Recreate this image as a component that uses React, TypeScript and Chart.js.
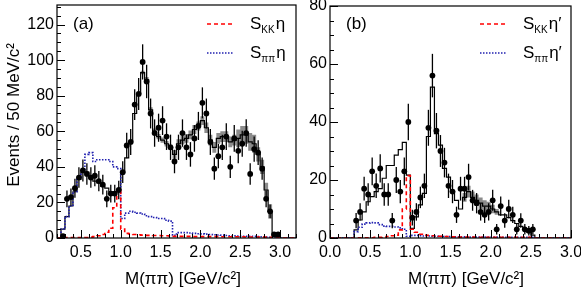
import React, { useEffect, useRef } from "react";
import { Chart, registerables } from "chart.js";
Chart.register(...registerables);

const FONT = '"Liberation Sans", Arial, Helvetica, sans-serif';

// ---------------- Panel (a): S-wave with eta ----------------
const aMass = [0.275, 0.325, 0.375, 0.425, 0.475, 0.525, 0.575, 0.625, 0.675, 0.725, 0.775, 0.825, 0.875, 0.925, 0.975, 1.025, 1.075, 1.125, 1.175, 1.225, 1.275, 1.325, 1.375, 1.425, 1.475, 1.525, 1.575, 1.625, 1.675, 1.725, 1.775, 1.825, 1.875, 1.925, 1.975, 2.025, 2.075, 2.125, 2.175, 2.225, 2.275, 2.325, 2.375, 2.425, 2.475, 2.525, 2.575, 2.625, 2.675, 2.725, 2.775, 2.825, 2.875, 2.925, 2.975];
const aData = [1, 22, 23, 28, 34, 38, 36, 34, 35, 32, 30, 22, 25, 25, 27, 37, 52, 54, 75, 81, 99, 88, 70, 59, 62, 66, 57, 51, 43, 51, 59, 51, 47, 56, 63, 76, 70, 54, 39, 46, 51, 57, 40, 56, 49, 53, 59, 36, 50, 48, 39, 22, 15, 2, 2];
const aErr = [1, 4.7, 4.8, 5.3, 5.8, 6.2, 6, 5.8, 5.9, 5.7, 5.5, 4.7, 5, 5, 5.2, 6.1, 7.2, 7.3, 8.7, 9, 9.9, 9.4, 8.4, 7.7, 7.9, 8.1, 7.5, 7.1, 6.6, 7.1, 7.7, 7.1, 6.9, 7.5, 7.9, 8.7, 8.4, 7.3, 6.2, 6.8, 7.1, 7.5, 6.3, 7.5, 7, 7.3, 7.7, 6, 7.1, 6.9, 6.2, 4.7, 3.9, 1.4, 1.4];
const aFit = [5, 12, 18, 26, 33, 37, 37, 34, 32, 31, 29, 28, 26, 26, 27, 37, 45, 54, 70, 81, 93, 89, 72, 60, 57, 55, 53, 51, 47, 53, 55, 56, 58, 61, 63, 66, 62, 55, 51, 56, 57, 57, 54, 55, 56, 58, 58, 54, 53, 47, 40, 27, 15, 1, 0];
const aFitBand = [0, 0, 0, 0, 0, 0, 0, 0, 0, 0, 0, 0, 0, 0, 0, 0, 0, 0, 0, 0, 1, 1.5, 1.5, 1.5, 1.5, 1.5, 1.5, 1.5, 2.5, 2.5, 2.5, 2.5, 2.5, 2.5, 2.5, 2.5, 3, 3, 3, 3, 3, 3, 3, 3, 5, 5, 5, 5, 5, 4, 4, 4, 4, 0.5, 0];
const aSpipi = [5, 12, 18, 26, 33, 37, 47, 48, 43, 44, 44, 44, 43, 40, 39, 11, 14, 15, 14.5, 14, 13.5, 12.5, 12, 11.5, 11, 11, 10, 9.5, 1.5, 3, 3, 3, 2.8, 2.6, 2.4, 2.3, 2.2, 2, 1.8, 1.7, 1.6, 1.4, 1.3, 1.2, 1.1, 1, 1, 1, 0.9, 0.8, 0.7, 0.5, 0.4, 0, 0];
const aSkk = [0.2, 0.2, 0.2, 0.2, 0.2, 0.2, 0.3, 0.5, 0.8, 1.3, 2, 3.2, 5.5, 17, 27, 5, 2.6, 2.3, 2, 1.8, 1.6, 1.5, 1.5, 1.4, 1.4, 1.3, 1.3, 1.2, 0.9, 0.9, 0.9, 0.9, 0.9, 0.8, 0.8, 0.8, 0.8, 0.8, 0.8, 0.8, 0.7, 0.7, 0.7, 0.7, 0.7, 0.7, 0.6, 0.6, 0.6, 0.6, 0.5, 0.5, 0.4, 0, 0];
const aXTicks = [0.5, 1.0, 1.5, 2.0, 2.5, 3.0];
const aYTicks = [0, 20, 40, 60, 80, 100, 120];

// ---------------- Panel (b): S-wave with eta' ----------------
const bMass = [0.325, 0.375, 0.425, 0.475, 0.525, 0.575, 0.625, 0.675, 0.725, 0.775, 0.825, 0.875, 0.925, 0.975, 1.025, 1.075, 1.125, 1.175, 1.225, 1.275, 1.325, 1.375, 1.425, 1.475, 1.525, 1.575, 1.625, 1.675, 1.725, 1.775, 1.825, 1.875, 1.925, 1.975, 2.025, 2.075, 2.125, 2.175, 2.225, 2.275, 2.325, 2.375, 2.425, 2.475, 2.525];
const bData = [6, 9, 17, 15, 23, 18, 24, 15, 15, 6, 20, 16, 23, 40, 7, 9, 14, 18, 38, 56, 37, 30, 26, 18, 16, 8, 17, 17, 21, 13, 12, 9, 8, 9, 13, 3, 11, 6, 10, 8, 3, 6, 3, 2.5, 3];
const bErr = [2.6, 3, 4.1, 3.9, 4.8, 4.2, 4.9, 3.9, 3.9, 2.6, 4.5, 4, 4.8, 6.3, 2.7, 3, 3.7, 4.2, 6.2, 7.5, 6.1, 5.5, 5.1, 4.2, 4, 2.8, 4.1, 4.1, 4.6, 3.6, 3.5, 3, 2.8, 3, 3.6, 1.8, 3.3, 2.5, 3.2, 2.8, 1.8, 2.5, 1.8, 1.6, 1.8];
const bFit = [2.8, 6.2, 9, 12.5, 14.3, 16, 17, 20.6, 25, 25, 28.6, 30.5, 33, 21.7, 3.3, 7.3, 11.4, 15.4, 35, 52, 36, 32, 24, 21, 16, 13, 10, 14, 16, 14, 13, 12, 11, 11, 10, 9, 8, 8, 7, 6, 5, 4, 3, 2, 1];
const bFitBand = [0, 0, 0, 0, 0, 0, 0, 0, 0, 0, 0, 0, 0, 0, 0, 0, 0, 0, 0, 0, 0, 0, 0, 0, 0, 0, 0, 1.5, 2, 2, 2, 2, 2, 1.5, 1.5, 1, 0, 0, 0, 0, 0, 0, 0, 0, 0];
const bSpipi = [2.2, 3.7, 4.8, 5.2, 5.3, 5.2, 4.6, 4.1, 4, 4, 3.8, 3.5, 3, 0.6, 0.9, 0.9, 0.8, 0.7, 0.7, 0.6, 0.6, 0.5, 0.5, 0.5, 0.4, 0.4, 0.4, 0.4, 0.3, 0.3, 0.3, 0.3, 0.3, 0.3, 0.3, 0.3, 0.2, 0.2, 0.2, 0.2, 0.2, 0.2, 0.2, 0.2, 0.2];
const bSkk = [0.1, 0.1, 0.1, 0.1, 0.1, 0.2, 0.2, 0.3, 0.5, 0.8, 1, 2.8, 10, 21.5, 3, 2, 1.3, 1, 0.9, 0.8, 0.7, 0.6, 0.5, 0.5, 0.4, 0.4, 0.3, 0.3, 0.3, 0.3, 0.2, 0.2, 0.2, 0.2, 0.2, 0.2, 0.2, 0.2, 0.2, 0.2, 0.2, 0.2, 0.2, 0.2, 0.2];
const bXTicks = [0.0, 0.5, 1.0, 1.5, 2.0, 2.5, 3.0];
const bYTicks = [0, 20, 40, 60, 80];

const BIN_HALF = 0.025;

type Pt = { x: number; y: number };

function histPoints(centers: number[], values: number[], xMin: number, xMax: number): Pt[] {
  const pts: Pt[] = [{ x: xMin, y: 0 }];
  let prev = 0;
  centers.forEach((c, i) => {
    pts.push({ x: c - BIN_HALF, y: prev });
    pts.push({ x: c - BIN_HALF, y: values[i] });
    prev = values[i];
  });
  const last = centers[centers.length - 1] + BIN_HALF;
  pts.push({ x: last, y: prev });
  pts.push({ x: last, y: 0 });
  pts.push({ x: xMax, y: 0 });
  return pts;
}

interface Panel {
  W: number; H: number;
  plotLeft: number; plotRight: number; plotTop: number; plotBottom: number;
  xMin: number; xMax: number; yMax: number; yMinor: number;
  xTicks: number[]; yTicks: number[];
  mass: number[]; data: number[]; err: number[]; fit: number[]; band: number[]; spipi: number[]; skk: number[];
  tag: string; etaText: string;
  yTitle: string | null; yTitleX: number; yTitleY: number;
  xTitleX: number; xTitleY: number;
}

const panelA: Panel = {
  W: 300, H: 289, plotLeft: 57, plotRight: 298, plotTop: 5, plotBottom: 238,
  xMin: 0.2, xMax: 3.2, yMax: 131, yMinor: 5,
  xTicks: aXTicks, yTicks: aYTicks,
  mass: aMass, data: aData, err: aErr, fit: aFit, band: aFitBand, spipi: aSpipi, skk: aSkk,
  tag: "(a)", etaText: "η",
  yTitle: "Events / 50 MeV/c²", yTitleX: 14, yTitleY: 115,
  xTitleX: 183, xTitleY: 279,
};

const panelB: Panel = {
  W: 281, H: 289, plotLeft: 30, plotRight: 271, plotTop: 6, plotBottom: 238,
  xMin: 0, xMax: 3, yMax: 80, yMinor: 5,
  xTicks: bXTicks, yTicks: bYTicks,
  mass: bMass, data: bData, err: bErr, fit: bFit, band: bFitBand, spipi: bSpipi, skk: bSkk,
  tag: "(b)", etaText: "η′",
  yTitle: null, yTitleX: 0, yTitleY: 0,
  xTitleX: 166, xTitleY: 279,
};

function drawLabelWithSub(ctx: CanvasRenderingContext2D, x: number, y: number, sub: string, tail: string) {
  ctx.fillStyle = "#000";
  ctx.textAlign = "left";
  ctx.textBaseline = "middle";
  ctx.font = `17px ${FONT}`;
  ctx.fillText("S", x, y);
  let cx = x + ctx.measureText("S").width;
  ctx.font = `10px ${FONT}`;
  ctx.fillText(sub, cx, y + 6);
  cx += ctx.measureText(sub).width + 1;
  ctx.font = `17px ${FONT}`;
  ctx.fillText(tail, cx, y);
}

function makeChart(canvas: HTMLCanvasElement, p: Panel) {
  const POINTS_INDEX = 5;
  const decor = {
    id: "decor",
    beforeDatasetDraw(chart: any, args: any) {
      if (args.index !== POINTS_INDEX) return;
      const { ctx, chartArea } = chart;
      const xs = chart.scales.x;
      const ys = chart.scales.y;
      ctx.save();
      ctx.beginPath();
      ctx.rect(chartArea.left, chartArea.top, chartArea.right - chartArea.left, chartArea.bottom - chartArea.top);
      ctx.clip();
      ctx.strokeStyle = "#000";
      ctx.lineWidth = 1.3;
      p.mass.forEach((m, i) => {
        const px = xs.getPixelForValue(m);
        const y1 = ys.getPixelForValue(Math.max(0, p.data[i] - p.err[i]));
        const y2 = ys.getPixelForValue(p.data[i] + p.err[i]);
        ctx.beginPath();
        ctx.moveTo(px, y1);
        ctx.lineTo(px, y2);
        ctx.stroke();
      });
      ctx.restore();
    },
    afterDatasetsDraw(chart: any) {
      const { ctx, chartArea } = chart;
      const xs = chart.scales.x;
      const ys = chart.scales.y;
      const { left, right, top, bottom } = chartArea;
      ctx.save();
      // frame
      ctx.strokeStyle = "#000";
      ctx.lineWidth = 1.2;
      ctx.strokeRect(left, top, right - left, bottom - top);
      // y ticks (inside)
      ctx.lineWidth = 1;
      for (let v = 0; v <= p.yMax + 1e-6; v += p.yMinor) {
        const major = Math.abs(v / 20 - Math.round(v / 20)) < 1e-6;
        const py = Math.round(ys.getPixelForValue(v)) + 0.5;
        ctx.beginPath();
        ctx.moveTo(left, py);
        ctx.lineTo(left + (major ? 8 : 4), py);
        ctx.stroke();
      }
      // x ticks (inside)
      const k0 = Math.ceil(p.xMin * 10 - 1e-6);
      const k1 = Math.floor(p.xMax * 10 + 1e-6);
      for (let k = k0; k <= k1; k++) {
        const v = k / 10;
        const major = k % 5 === 0;
        const px = Math.round(xs.getPixelForValue(v)) + 0.5;
        ctx.beginPath();
        ctx.moveTo(px, bottom);
        ctx.lineTo(px, bottom - (major ? 8 : 4));
        ctx.stroke();
      }
      // panel tag
      ctx.fillStyle = "#000";
      ctx.font = `17px ${FONT}`;
      ctx.textAlign = "left";
      ctx.textBaseline = "middle";
      ctx.fillText(p.tag, left + 16, 24);
      // legend
      const lx0 = left + 150;
      const lx1 = left + 176;
      ctx.lineWidth = 1.6;
      ctx.strokeStyle = "#ff0000";
      ctx.setLineDash([4, 3]);
      ctx.beginPath();
      ctx.moveTo(lx0, 24);
      ctx.lineTo(lx1, 24);
      ctx.stroke();
      ctx.strokeStyle = "#2020b0";
      ctx.setLineDash([1.5, 1.5]);
      ctx.beginPath();
      ctx.moveTo(lx0, 53);
      ctx.lineTo(lx1, 53);
      ctx.stroke();
      ctx.setLineDash([]);
      drawLabelWithSub(ctx, left + 193, 24, "KK", p.etaText);
      drawLabelWithSub(ctx, left + 193, 53, "ππ", p.etaText);
      // axis titles
      ctx.fillStyle = "#000";
      ctx.font = `17px ${FONT}`;
      ctx.textAlign = "center";
      ctx.textBaseline = "middle";
      ctx.fillText("M(ππ) [GeV/c²]", p.xTitleX, p.xTitleY);
      if (p.yTitle) {
        ctx.translate(p.yTitleX, p.yTitleY);
        ctx.rotate(-Math.PI / 2);
        ctx.fillText(p.yTitle, 0, 0);
      }
      ctx.restore();
    },
  };

  const bandLo = p.fit.map((v, i) => Math.max(0, v - p.band[i]));
  const bandHi = p.fit.map((v, i) => v + p.band[i]);

  const lineBase = {
    type: "line" as const,
    showLine: true,
    pointRadius: 0,
    tension: 0,
    spanGaps: false,
  };

  return new Chart(canvas, {
    type: "scatter",
    data: {
      datasets: [
        { ...lineBase, label: "band-lo", data: histPoints(p.mass, bandLo, p.xMin, p.xMax), borderWidth: 0, borderColor: "rgba(0,0,0,0)", fill: false, order: 5 },
        { ...lineBase, label: "band-hi", data: histPoints(p.mass, bandHi, p.xMin, p.xMax), borderWidth: 0, borderColor: "rgba(0,0,0,0)", backgroundColor: "#8c8c8c", fill: 0, order: 4 },
        { ...lineBase, label: "fit", data: histPoints(p.mass, p.fit, p.xMin, p.xMax), borderColor: "#000", borderWidth: 1.2, fill: false, order: 3 },
        { ...lineBase, label: "spipi", data: histPoints(p.mass, p.spipi, p.xMin, p.xMax), borderColor: "#2020b0", borderWidth: 1.6, borderDash: [1.5, 1.5], fill: false, order: 2 },
        { ...lineBase, label: "skk", data: histPoints(p.mass, p.skk, p.xMin, p.xMax), borderColor: "#ff0000", borderWidth: 1.6, borderDash: [4, 3], fill: false, order: 1 },
        {
          type: "scatter" as const,
          label: "data",
          data: p.mass.map((m, i) => ({ x: m, y: p.data[i] })),
          pointRadius: 2.9,
          pointBackgroundColor: "#000",
          pointBorderColor: "#000",
          pointBorderWidth: 0,
          showLine: false,
          order: 0,
        },
      ] as any,
    },
    options: {
      animation: false,
      responsive: false,
      devicePixelRatio: 1,
      events: [],
      layout: { padding: { left: 0, right: p.W - p.plotRight, top: p.plotTop, bottom: 0 } },
      plugins: {
        legend: { display: false },
        tooltip: { enabled: false },
        title: { display: false },
      },
      scales: {
        x: {
          type: "linear",
          min: p.xMin,
          max: p.xMax,
          grid: { display: false, drawTicks: false },
          border: { display: false },
          ticks: {
            color: "#000",
            font: { family: FONT, size: 16 },
            padding: 5,
            maxRotation: 0,
            autoSkip: false,
            callback: (v: any) => Number(v).toFixed(1),
          },
          afterBuildTicks: (s: any) => {
            s.ticks = p.xTicks.map((v) => ({ value: v }));
          },
          afterFit: (s: any) => {
            s.height = p.H - p.plotBottom;
            s.paddingLeft = 0;
            s.paddingRight = 0;
          },
        },
        y: {
          type: "linear",
          min: 0,
          max: p.yMax,
          grid: { display: false, drawTicks: false },
          border: { display: false },
          ticks: {
            color: "#000",
            font: { family: FONT, size: 16 },
            padding: 3,
            autoSkip: false,
            callback: (v: any) => String(v),
          },
          afterBuildTicks: (s: any) => {
            s.ticks = p.yTicks.map((v) => ({ value: v }));
          },
          afterFit: (s: any) => {
            s.width = p.plotLeft;
            s.paddingTop = 0;
            s.paddingBottom = 0;
          },
        },
      },
    } as any,
    plugins: [decor],
  });
}

export default function App() {
  const refA = useRef<HTMLCanvasElement>(null);
  const refB = useRef<HTMLCanvasElement>(null);
  useEffect(() => {
    const ca = makeChart(refA.current!, panelA);
    const cb = makeChart(refB.current!, panelB);
    return () => {
      ca.destroy();
      cb.destroy();
    };
  }, []);
  return (
    <div style={{ position: "fixed", left: 0, top: 0, width: 581, height: 289, background: "#fff", overflow: "hidden" }}>
      <canvas ref={refA} width={300} height={289} style={{ position: "absolute", left: 0, top: 0, width: 300, height: 289 }} />
      <canvas ref={refB} width={281} height={289} style={{ position: "absolute", left: 300, top: 0, width: 281, height: 289 }} />
    </div>
  );
}
